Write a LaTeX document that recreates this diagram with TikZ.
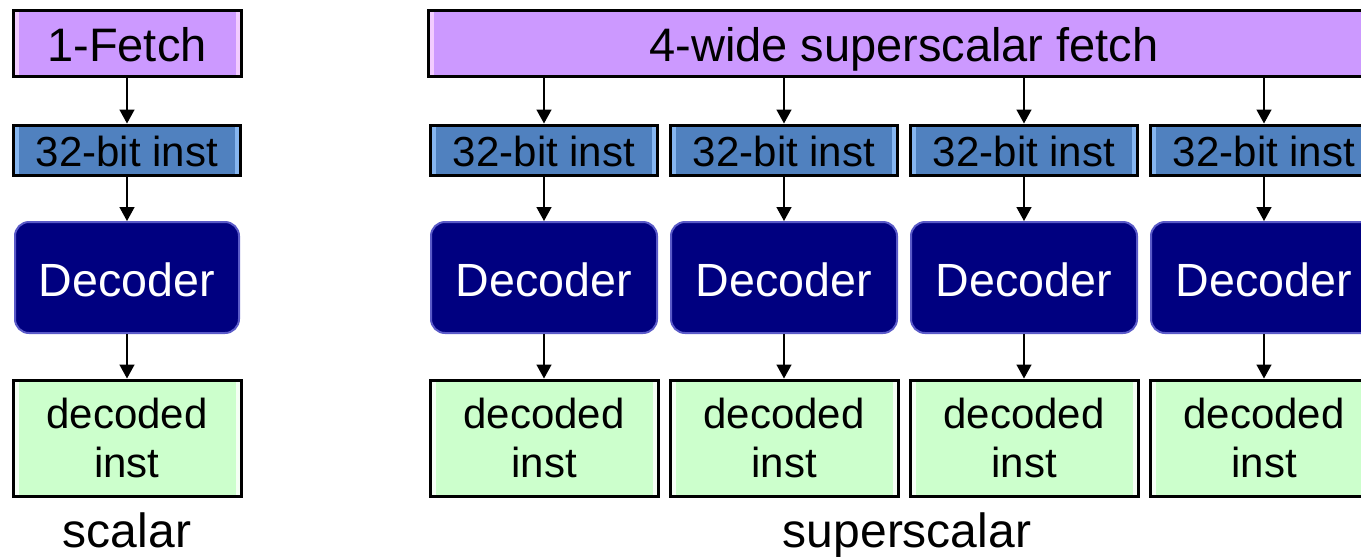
\documentclass[tikz,border=0pt]{standalone}
\usepackage{fontspec}
\setmainfont{Liberation Sans}
\usetikzlibrary{arrows.meta,shadows}
\definecolor{fetchc}{HTML}{CC99FF}
\definecolor{fetchl}{HTML}{F2CCFF}
\definecolor{instc}{HTML}{5081BF}
\definecolor{instl}{HTML}{86B6F0}
\definecolor{decc}{HTML}{000080}
\definecolor{dece}{HTML}{5A5AC8}
\definecolor{outc}{HTML}{CCFFCC}
\definecolor{outl}{HTML}{F4FFF4}
\tikzset{
  bevel/.style={path picture={
    \fill[#1] ([xshift=0.75pt,yshift=-0.75pt]path picture bounding box.north west) rectangle ([xshift=2.75pt,yshift=0.75pt]path picture bounding box.south west);
    \fill[#1] ([xshift=-0.75pt,yshift=-0.75pt]path picture bounding box.north east) rectangle ([xshift=-2.75pt,yshift=0.75pt]path picture bounding box.south east);
  }},
  boxbase/.style={draw=black, line width=1.5pt, inner sep=0pt, align=center,
    drop shadow={shadow xshift=0.9pt, shadow yshift=-0.9pt, opacity=0.6}},
  fetchbox/.style={boxbase, fill=fetchc, bevel=fetchl, minimum height=33pt,
    font=\fontsize{23.5}{28}\selectfont, text height=18.6pt, text depth=0pt},
  instbox/.style={boxbase, fill=instc, bevel=instl, minimum width=113.5pt, minimum height=25pt,
    font=\fontsize{21}{25}\selectfont, text height=16pt, text depth=0pt},
  decbox/.style={draw=dece, line width=1pt, fill=decc, rounded corners=7pt, inner sep=0pt,
    minimum width=112pt, minimum height=55.5pt, text=white,
    font=\fontsize{23.3}{28}\selectfont, text height=18.6pt, text depth=0pt},
  outbox/.style={boxbase, fill=outc, bevel=outl, minimum width=114pt, minimum height=58pt,
    font=\fontsize{21}{24.5}\selectfont},
  lab/.style={anchor=base, font=\fontsize{24}{28}\selectfont, inner sep=0pt},
  arr/.style={-{Triangle[length=7pt,width=7.5pt]}, line width=0.75pt}
}
\begin{document}
\begin{tikzpicture}[x=0.5pt,y=-0.5pt]
\useasboundingbox (0,0) rectangle (1361,559);
\clip (0,0) rectangle (1361,559);
% scalar
\node[fetchbox, minimum width=114pt] (f0) at (127,43) {1-Fetch};
\node[instbox] (i0) at (127,150) {32-bit inst};
\node[decbox] (d0) at (127,277.5) {Decoder};
\node[outbox] (o0) at (127,438) {decoded\\inst};
\node[lab] (l0) at (127,547) {scalar};
\draw[arr] (f0.south) -- (i0.north);
\draw[arr] (i0.south) -- (d0.north);
\draw[arr] (d0.south) -- (o0.north);
% superscalar
\node[fetchbox, minimum width=476pt] (sf) at (904,43) {4-wide superscalar fetch};
\foreach \k/\x in {1/544,2/784,3/1024,4/1264}{
  \node[instbox] (i\k) at (\x,150) {32-bit inst};
  \node[decbox, minimum width=113pt] (d\k) at (\x,277.5) {Decoder};
  \node[outbox] (o\k) at (\x,438) {decoded\\inst};
  \draw[arr] (sf.south -| i\k.north) -- (i\k.north);
  \draw[arr] (i\k.south) -- (d\k.north);
  \draw[arr] (d\k.south) -- (o\k.north);
}
\node[lab] (l1) at (907,547) {superscalar};
\end{tikzpicture}
\end{document}
